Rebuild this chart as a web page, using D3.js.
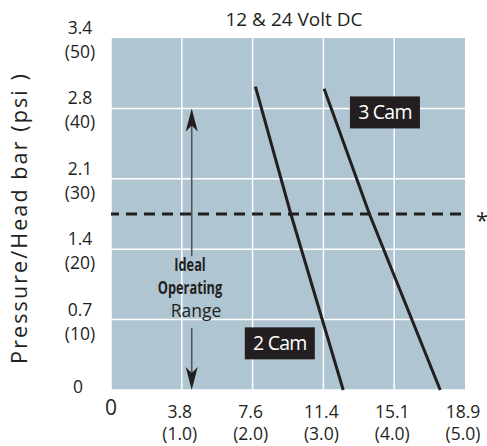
<!DOCTYPE html>
<html><head><meta charset="utf-8">
<script src="https://cdn.jsdelivr.net/npm/d3@7"></script>
<style>
html,body{margin:0;padding:0;background:#fff;}
text{font-family:"Open Sans","Noto Sans",sans-serif;fill:#231f20;}
</style></head>
<body><svg id="c" width="487" height="446"></svg>
<script>
// ---- data ----
const title = "12 & 24 Volt DC";
const yTitle = "Pressure/Head bar (psi )";
const xTicks = [0, 1, 2, 3, 4, 5];                       // gpm
const xLabelsTop = ["0", "3.8", "7.6", "11.4", "15.1", "18.9"];   // lpm
const xLabelsBottom = ["", "(1.0)", "(2.0)", "(3.0)", "(4.0)", "(5.0)"];
const yTicks = [0, 10, 20, 30, 40, 50];                  // psi
const yLabelsTop = ["0", "0.7", "1.4", "2.1", "2.8", "3.4"];      // bar
const yLabelsBottom = ["", "(10)", "(20)", "(30)", "(40)", "(50)"];
const cam2 = [{gpm: 2.04, psi: 43.1}, {gpm: 2.54, psi: 25}, {gpm: 3.28, psi: 0}];
const cam3 = [{gpm: 3.01, psi: 42.8}, {gpm: 3.65, psi: 25}, {gpm: 4.65, psi: 0}];
const seriesLabels = [{name: "2 Cam", gpm: 1.89, psi: 8.9}, {name: "3 Cam", gpm: 3.375, psi: 41.7}];
const referencePsi = 25;
const rangeArrow = {gpm: 1.14, upTop: 40, upBottom: 19, downTop: 8.8, downBottom: 0};
const rangeText = ["Ideal", "Operating", "Range"];

// ---- chart ----
const svg = d3.select("#c");
const x = d3.scaleLinear().domain([0, 5]).range([111, 465]);
const y = d3.scaleLinear().domain([0, 50]).range([390, 38]);
const ink = "#231f20";

svg.append("rect").attr("x", x(0)).attr("y", y(50)).attr("width", x(5) - x(0)).attr("height", y(0) - y(50))
  .attr("fill", "#afc5d1");

// grid
svg.append("g").selectAll("line").data(xTicks.slice(0, -1)).join("line")
  .attr("x1", d => x(d)).attr("x2", d => x(d)).attr("y1", y(0)).attr("y2", y(50))
  .attr("stroke", "#fff").attr("stroke-width", 1.5);
svg.append("g").selectAll("line").data(yTicks.slice(0, -1)).join("line")
  .attr("y1", d => y(d)).attr("y2", d => y(d)).attr("x1", x(0)).attr("x2", x(5))
  .attr("stroke", "#fff").attr("stroke-width", 1.5);

// title
svg.append("text").attr("x", 294).attr("y", 26).attr("text-anchor", "middle")
  .attr("font-size", 19).text(title);

// y title
svg.append("text").attr("transform", "translate(27,218) rotate(-90)").attr("text-anchor", "middle")
  .attr("font-size", 21.5).attr("letter-spacing", 2.1).text(yTitle);

// y labels
const yl = svg.append("g").attr("text-anchor", "middle").attr("font-size", 17.5);
yTicks.forEach((t, i) => {
  if (t === 0) {
    yl.append("text").attr("x", 78).attr("y", y(t) + 3).text(yLabelsTop[i]);
  } else {
    yl.append("text").attr("x", 80).attr("y", y(t) - 4).text(yLabelsTop[i]);
    yl.append("text").attr("x", 80).attr("y", y(t) + 20).text(yLabelsBottom[i]);
  }
});

// x labels
const xl = svg.append("g").attr("text-anchor", "middle").attr("font-size", 17.5);
xTicks.forEach((t, i) => {
  if (t === 0) {
    xl.append("text").attr("x", x(t)).attr("y", 415).attr("font-size", 21).text(xLabelsTop[i]);
  } else {
    xl.append("text").attr("x", x(t) - 2).attr("y", 418).text(xLabelsTop[i]);
    xl.append("text").attr("x", x(t) - 2).attr("y", 440).text(xLabelsBottom[i]);
  }
});

// dashed reference line
svg.append("line").attr("x1", x(0)).attr("x2", x(5)).attr("y1", y(referencePsi)).attr("y2", y(referencePsi))
  .attr("stroke", ink).attr("stroke-width", 3).attr("stroke-dasharray", "11,7").attr("stroke-dashoffset", 3);
svg.append("text").attr("x", 482).attr("y", 228).attr("text-anchor", "middle").attr("font-size", 22).text("*");

// ideal range arrows
const ax = x(rangeArrow.gpm);
svg.append("line").attr("x1", ax).attr("x2", ax).attr("y1", y(rangeArrow.upTop) + 15).attr("y2", y(rangeArrow.upBottom))
  .attr("stroke", "#555").attr("stroke-width", 1.6);
svg.append("line").attr("x1", ax).attr("x2", ax).attr("y1", y(rangeArrow.downTop)).attr("y2", y(rangeArrow.downBottom) - 15)
  .attr("stroke", "#555").attr("stroke-width", 1.6);
const head = "M0,0 L6,23 L0,17 L-6,23 Z";
svg.append("path").attr("d", head).attr("fill", ink)
  .attr("transform", `translate(${ax},${y(rangeArrow.upTop)})`);
svg.append("path").attr("d", head).attr("fill", ink)
  .attr("transform", `translate(${ax},${y(rangeArrow.downBottom)}) rotate(180)`);

const rt = svg.append("g").attr("text-anchor", "middle");
rt.append("text").attr("transform", "translate(190,271) scale(0.8,1.08)").attr("font-family", "Roboto,sans-serif")
  .attr("font-weight", "bold").attr("font-size", 16).text(rangeText[0]);
rt.append("text").attr("transform", "translate(190,294) scale(0.8,1.08)").attr("font-family", "Roboto,sans-serif")
  .attr("font-weight", "bold").attr("font-size", 16).text(rangeText[1]);
rt.append("text").attr("x", 196).attr("y", 317).attr("font-size", 17.5).text(rangeText[2]);

// curves
const line = d3.line().x(d => x(d.gpm)).y(d => y(d.psi));
[cam2, cam3].forEach(s => {
  svg.append("path").attr("d", line(s)).attr("fill", "none").attr("stroke", ink).attr("stroke-width", 3);
});

// series labels
seriesLabels.forEach(l => {
  const g = svg.append("g").attr("transform", `translate(${x(l.gpm)},${y(l.psi)})`);
  g.append("rect").attr("width", 70).attr("height", 32).attr("fill", ink);
  g.append("text").attr("x", 35).attr("y", 23).attr("text-anchor", "middle")
    .attr("font-size", 19.5).style("fill", "#fff").attr("letter-spacing", -0.8).text(l.name);
});
</script></body></html>
